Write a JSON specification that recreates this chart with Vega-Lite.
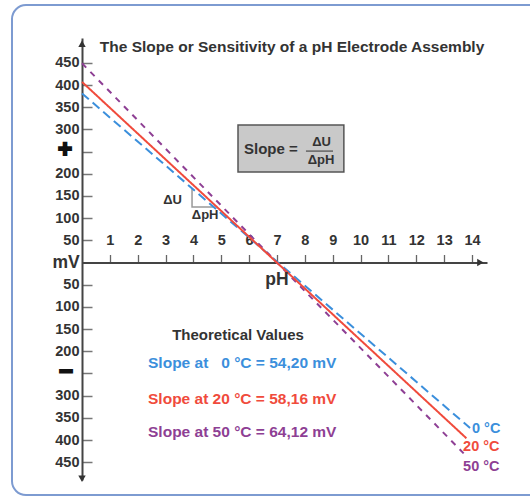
{
  "$schema": "https://vega.github.io/schema/vega-lite/v6.json",
  "width": 405,
  "height": 442,
  "autosize": {"type": "none"},
  "padding": {"left": 82, "top": 38, "right": 43, "bottom": 17},
  "background": "white",
  "config": {"view": {"stroke": null}, "font": "Liberation Sans"},
  "encoding": {
    "x": {
      "field": "pH", "type": "quantitative",
      "scale": {"domain": [0, 14.538], "nice": false, "zero": false},
      "axis": {
        "orient": "top", "offset": -224.5, "title": null, "grid": false,
        "values": [1,2,3,4,5,6,7,8,9,10,11,12,13,14],
        "domainColor": "#444", "domainWidth": 2, "tickColor": "#666", "tickWidth": 1.3, "tickSize": 8,
        "labelPadding": 7, "labelFont": "Liberation Sans", "labelFontWeight": "bold", "labelFontSize": 14.5,
        "labelColor": "#333", "labelFlush": false, "labelOverlap": false, "labelBound": false
      }
    },
    "y": {
      "field": "mV", "type": "quantitative",
      "scale": {"domain": [-490, 506], "nice": false, "zero": false},
      "axis": {
        "orient": "left", "title": null, "grid": false,
        "values": [-450,-400,-350,-300,-250,-200,-150,-100,-50,50,100,150,200,250,300,350,400,450],
        "labelExpr": "datum.value == 250 || datum.value == -250 ? '' : format(abs(datum.value), 'd')",
        "domainColor": "#444", "domainWidth": 2, "tickColor": "#777", "tickWidth": 1.5, "tickSize": -10,
        "labelPadding": 13, "labelFont": "Liberation Sans", "labelFontWeight": "bold", "labelFontSize": 14.5,
        "labelColor": "#333", "labelFlush": false, "labelOverlap": false, "labelBound": false
      }
    }
  },
  "layer": [
    {
      "data": {"values": [{"pH": -2.513, "pH2": 30, "mV": 580.2, "mV2": -523.9}]},
      "mark": {"type": "rect", "fill": null, "stroke": "#7d9bd1", "strokeWidth": 2, "cornerRadius": 14},
      "encoding": {"x2": {"field": "pH2"}, "y2": {"field": "mV2"}}
    },
    {
      "data": {"values": [{"pH": 5.6, "pH2": 9.4, "mV": 310, "mV2": 204}]},
      "mark": {"type": "rect", "fill": "#c9c9c9", "stroke": "#555", "strokeWidth": 1.5},
      "encoding": {"x2": {"field": "pH2"}, "y2": {"field": "mV2"}}
    },
    {
      "data": {"values": [{"pH": 8.04, "pH2": 9.01, "mV": 251.2}]},
      "mark": {"type": "rule", "color": "#333", "strokeWidth": 1},
      "encoding": {"x2": {"field": "pH2"}}
    },
    {
      "data": {"values": [{"pH": 3.95, "mV": 168, "o": 1}, {"pH": 3.95, "mV": 125, "o": 2}, {"pH": 4.75, "mV": 125, "o": 3}]},
      "mark": {"type": "line", "color": "#999", "strokeWidth": 1.5},
      "encoding": {"order": {"field": "o"}}
    },
    {
      "data": {"values": [
        {"series": "0 °C", "pH": 0, "mV": 381},
        {"series": "0 °C", "pH": 13.93, "mV": -373},
        {"series": "50 °C", "pH": 0, "mV": 449},
        {"series": "50 °C", "pH": 13.7, "mV": -430},
        {"series": "20 °C", "pH": 0, "mV": 407},
        {"series": "20 °C", "pH": 13.8, "mV": -396}
      ]},
      "mark": {"type": "line", "strokeWidth": 2},
      "encoding": {
        "color": {"field": "series", "type": "nominal", "scale": {"domain": ["0 °C", "20 °C", "50 °C"], "range": ["#3b8fdc", "#f04b3c", "#8e3f94"]}, "legend": null},
        "strokeDash": {"field": "series", "type": "nominal", "scale": {"domain": ["0 °C", "20 °C", "50 °C"], "range": [[9, 5], [1, 0], [6, 6]]}, "legend": null}
      }
    },
    {
      "data": {"values": [
        {"dir": "up", "pH": 0, "mV": 493},
        {"dir": "down", "pH": 0, "mV": -487},
        {"dir": "right", "pH": 14.3, "mV": 0}
      ]},
      "mark": {"type": "point", "filled": true, "color": "#333", "opacity": 1, "size": 55},
      "encoding": {
        "shape": {"field": "dir", "type": "nominal", "scale": {"domain": ["up", "down", "right"], "range": ["triangle-up", "triangle-down", "triangle-right"]}, "legend": null}
      }
    },
    {
      "data": {"values": [{"pH": 7.54, "mV": 485.6, "label": "The Slope or Sensitivity of a pH Electrode Assembly"}]},
      "mark": {"type": "text", "fontSize": 15.5, "fontWeight": "bold", "color": "#333", "baseline": "middle", "align": "center"},
      "encoding": {"text": {"field": "label"}}
    },
    {
      "data": {"values": [{"pH": 7.0, "mV": -39.4, "label": "pH"}, {"pH": -0.574, "mV": -1, "label": "mV"}]},
      "mark": {"type": "text", "fontSize": 17.5, "fontWeight": "bold", "color": "#333", "baseline": "middle", "align": "center"},
      "encoding": {"text": {"field": "label"}}
    },
    {
      "data": {"values": [{"pH": -0.61, "mV": 253, "label": "+"}, {"pH": -0.57, "mV": -247, "label": "−"}]},
      "mark": {"type": "text", "fontSize": 24, "fontWeight": "bold", "color": "#111", "stroke": "#111", "strokeWidth": 2, "baseline": "middle", "align": "center"},
      "encoding": {"text": {"field": "label"}}
    },
    {
      "data": {"values": [{"pH": 6.78, "mV": 255.7, "label": "Slope ="}]},
      "mark": {"type": "text", "fontSize": 15, "fontWeight": "bold", "color": "#333", "baseline": "middle", "align": "center"},
      "encoding": {"text": {"field": "label"}}
    },
    {
      "data": {"values": [
        {"pH": 8.6, "mV": 271.5, "label": "ΔU"},
        {"pH": 8.58, "mV": 231, "label": "ΔpH"},
        {"pH": 3.25, "mV": 140.8, "label": "ΔU"},
        {"pH": 4.42, "mV": 107, "label": "ΔpH"}
      ]},
      "mark": {"type": "text", "fontSize": 13, "fontWeight": "bold", "color": "#333", "baseline": "middle", "align": "center"},
      "encoding": {"text": {"field": "label"}}
    },
    {
      "data": {"values": [{"pH": 5.6, "mV": -163.4, "label": "Theoretical Values"}]},
      "mark": {"type": "text", "fontSize": 15, "fontWeight": "bold", "color": "#333", "baseline": "middle", "align": "center"},
      "encoding": {"text": {"field": "label"}}
    },
    {
      "data": {"values": [
        {"series": "0 °C", "pH": 2.37, "mV": -226.5, "label": "Slope at \u00a0\u00a00 °C = 54,20 mV"},
        {"series": "20 °C", "pH": 2.37, "mV": -307.6, "label": "Slope at 20 °C = 58,16 mV"},
        {"series": "50 °C", "pH": 2.37, "mV": -382, "label": "Slope at 50 °C = 64,12 mV"}
      ]},
      "mark": {"type": "text", "fontSize": 15.5, "fontWeight": "bold", "baseline": "middle", "align": "left"},
      "encoding": {
        "text": {"field": "label"},
        "color": {"field": "series", "type": "nominal", "legend": null}
      }
    },
    {
      "data": {"values": [
        {"series": "0 °C", "pH": 14.0, "mV": -375.2, "label": "0 °C"},
        {"series": "20 °C", "pH": 13.68, "mV": -415.7, "label": "20 °C"},
        {"series": "50 °C", "pH": 13.68, "mV": -460.8, "label": "50 °C"}
      ]},
      "mark": {"type": "text", "fontSize": 14.5, "fontWeight": "bold", "baseline": "middle", "align": "left"},
      "encoding": {
        "text": {"field": "label"},
        "color": {"field": "series", "type": "nominal", "legend": null}
      }
    }
  ]
}
